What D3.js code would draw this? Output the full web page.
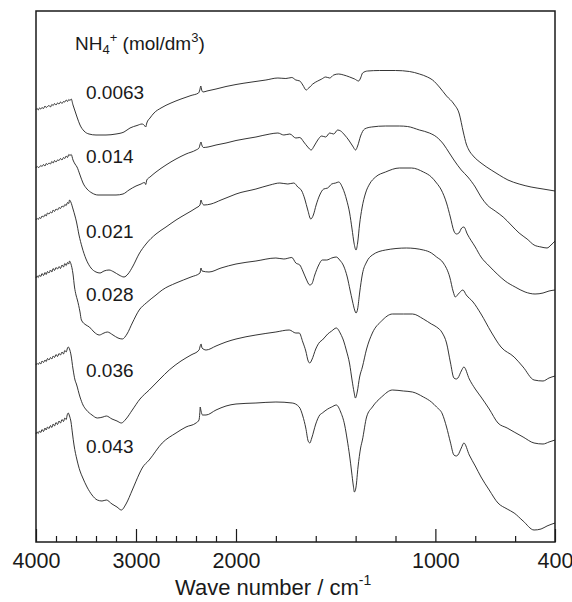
<!DOCTYPE html>
<html>
<head>
<meta charset="utf-8">
<script src="https://cdn.jsdelivr.net/npm/d3@7"></script>
<style>
	body { margin: 0; background: #fff; }
	text { font-family: "Liberation Sans", Arial, sans-serif; fill: #1a1a1a; }
</style>
</head>
<body>
<figure id="irSpectra" style="margin:0"></figure>
<script>

// concentration labels, top trace first
var concLabels = [ "0.0063", "0.014", "0.021", "0.028", "0.036", "0.043" ];

// x axis ticks (wavenumber, cm-1)
var majorTicks = [ 4000, 3000, 2000, 1000, 400 ];
var minorTicks = [ 3800, 3600, 3400, 3200, 2800, 2600, 2400, 2200, 1800, 1600, 1400, 1200, 800, 600 ];

// spectra: [wavenumber, transmittance (arb. units, offset)]
var s0063 = [
	[4000,86.5],[3988,86.7],[3978,86.4],[3965,86.8],[3952,86.6],[3940,86.9],[3925,86.7],[3910,87.2],[3898,86.9],[3885,87.1],
	[3870,87.3],[3855,87.0],[3842,87.5],[3828,87.3],[3815,87.7],[3800,87.4],[3785,87.8],[3770,87.6],[3755,88.0],[3740,87.7],
	[3725,88.1],[3712,88.0],[3698,88.4],[3685,88.1],[3672,88.5],[3660,88.3],[3648,88.6],
	[3630,87.4],[3610,86.2],[3590,85.0],[3560,83.4],[3520,82.2],[3470,81.6],[3400,81.4],[3300,81.4],[3200,81.6],
	[3120,82.0],[3060,82.8],[2990,83.3],[2940,83.6],[2915,83.3],[2903,83.0],[2892,83.8],[2860,84.8],[2820,85.8],[2750,86.8],
	[2650,87.8],[2550,88.6],[2450,89.3],[2375,89.8],[2362,90.4],[2352,91.2],[2343,90.4],[2330,90.0],[2290,90.2],[2200,90.6],
	[2100,91.1],[2000,91.5],[1920,92.0],[1850,92.4],[1790,92.8],[1750,92.7],[1720,92.9],[1700,92.4],[1680,92.2],[1665,91.4],
	[1648,90.4],[1635,90.8],[1615,91.6],[1590,92.2],[1570,92.6],[1550,93.0],[1530,92.8],[1510,93.4],[1485,93.6],[1460,93.4],
	[1430,93.0],[1405,92.6],[1385,92.2],[1375,92.8],[1365,93.8],[1340,94.2],[1280,94.3],[1200,94.3],[1130,94.1],[1080,93.6],
	[1040,93.0],[1014,92.4],[980,91.0],[944,89.2],[907,87.6],[880,85.6],[860,82.0],[845,79.6],[832,78.4],[810,77.2],
	[771,75.8],[720,74.4],[680,73.4],[636,72.4],[580,71.6],[520,71.0],[460,70.6],[430,70.4],[400,70.2]
];

var s014 = [
	[4000,74.8],[3988,75.1],[3978,74.9],[3965,75.0],[3952,75.3],[3940,75.1],[3925,75.5],[3910,75.2],[3898,75.7],[3885,75.5],
	[3870,75.8],[3855,75.6],[3842,76.1],[3828,75.8],[3815,76.3],[3800,76.0],[3785,76.4],[3770,76.3],[3755,76.7],[3740,76.4],
	[3725,76.9],[3712,76.7],[3698,77.2],[3685,76.9],[3672,77.5],[3660,77.3],[3648,77.5],
	[3630,76.4],[3610,75.6],[3590,75.0],[3560,73.4],[3530,71.8],[3490,70.6],[3440,69.8],[3380,69.4],[3300,69.4],
	[3200,69.4],[3130,69.6],[3070,70.4],[3000,71.2],[2950,71.6],[2915,71.9],[2903,71.5],[2892,72.4],[2860,73.0],[2800,74.0],
	[2700,75.4],[2600,76.6],[2500,77.6],[2400,78.4],[2370,78.8],[2358,79.6],[2350,80.0],[2342,79.4],[2325,78.9],[2280,79.0],
	[2200,79.4],[2100,79.8],[2000,80.3],[1900,81.0],[1830,81.6],[1790,81.8],[1760,81.4],[1730,81.6],[1700,80.8],[1680,80.9],
	[1660,80.0],[1640,79.0],[1623,78.4],[1608,79.2],[1590,80.4],[1570,81.2],[1550,81.0],[1530,81.8],[1510,81.6],[1490,82.4],
	[1475,82.2],[1455,81.4],[1435,80.4],[1415,79.2],[1400,78.4],[1390,79.2],[1375,81.2],[1355,82.6],[1320,83.0],[1250,83.2],
	[1180,83.2],[1140,83.1],[1080,82.4],[1030,81.8],[994,81.0],[960,79.6],[930,77.8],[907,76.4],[870,74.4],[837,73.0],
	[800,71.0],[771,69.0],[740,67.4],[700,66.2],[660,65.0],[620,63.4],[580,61.8],[540,60.6],[505,59.4],[470,59.0],
	[440,58.8],[420,59.4],[400,60.2]
];

var s021 = [
	[4000,64.4],[3988,64.7],[3978,64.5],[3965,64.9],[3952,64.7],[3940,65.2],[3925,65.0],[3910,65.5],[3898,65.2],[3885,65.8],
	[3870,65.6],[3855,66.0],[3842,65.8],[3828,66.4],[3815,66.1],[3800,66.6],[3785,66.4],[3770,66.9],[3755,66.7],[3740,67.2],
	[3725,67.0],[3712,67.5],[3698,67.3],[3685,67.9],[3672,67.7],[3665,68.4],[3652,68.0],
	[3630,66.6],[3610,65.2],[3595,64.0],[3570,61.4],[3540,59.0],[3500,56.6],[3450,54.8],[3400,54.0],[3360,53.8],
	[3320,54.2],[3270,54.4],[3220,54.0],[3170,53.4],[3120,53.0],[3080,53.6],[3030,55.2],[2970,57.6],[2900,59.6],[2800,61.6],
	[2700,63.0],[2600,64.4],[2500,65.6],[2400,66.8],[2360,67.4],[2350,68.4],[2340,67.8],[2320,67.4],[2250,67.6],[2150,68.4],
	[2050,69.2],[2000,69.6],[1900,70.6],[1830,71.4],[1780,71.8],[1740,71.6],[1710,71.8],[1690,71.0],[1670,70.2],[1655,68.6],
	[1640,66.4],[1625,64.6],[1612,65.4],[1598,67.4],[1580,69.4],[1560,70.6],[1540,70.8],[1520,71.6],[1500,71.8],[1485,72.0],
	[1465,70.8],[1445,68.4],[1430,65.8],[1418,62.6],[1408,59.8],[1398,58.4],[1390,59.8],[1380,63.6],[1368,66.8],[1350,69.8],
	[1330,71.6],[1300,73.0],[1250,74.0],[1180,74.8],[1120,74.8],[1060,74.0],[1020,73.0],[994,71.8],[970,70.4],[944,67.8],
	[925,65.0],[907,62.2],[895,61.6],[882,61.8],[868,62.8],[857,63.0],[840,61.6],[800,59.0],[771,57.0],[730,55.2],
	[690,53.6],[650,52.2],[600,51.0],[550,50.0],[500,49.6],[460,49.8],[430,50.2],[400,50.4]
];

var s028 = [
	[4000,52.8],[3988,53.2],[3978,52.9],[3965,53.4],[3952,53.1],[3940,53.7],[3925,53.3],[3910,53.9],[3898,53.5],[3885,54.1],
	[3870,53.8],[3855,54.4],[3842,54.0],[3828,54.7],[3815,54.3],[3800,54.9],[3785,54.6],[3770,55.1],[3755,54.7],[3740,55.4],
	[3725,55.0],[3712,55.7],[3698,55.3],[3685,55.9],[3672,55.6],[3665,56.2],[3652,55.7],
	[3630,53.6],[3615,51.0],[3600,49.4],[3586,48.4],[3560,46.0],[3546,44.4],[3500,43.4],[3466,43.0],[3420,42.0],
	[3367,41.4],[3320,41.8],[3287,42.0],[3230,41.4],[3180,40.8],[3137,40.6],[3090,41.6],[3037,43.8],[2968,46.4],[2898,47.8],
	[2800,49.4],[2738,50.4],[2600,51.8],[2450,53.0],[2360,53.8],[2350,54.8],[2340,54.2],[2270,54.0],[2150,54.8],[2000,55.6],
	[1900,56.2],[1800,56.8],[1760,56.6],[1720,56.9],[1700,55.8],[1680,55.4],[1665,54.2],[1648,52.6],[1630,51.4],[1620,51.6],
	[1605,53.4],[1585,55.4],[1567,56.4],[1545,56.4],[1520,56.8],[1497,57.0],[1480,56.4],[1460,55.2],[1442,53.0],[1428,50.4],
	[1416,48.2],[1405,46.4],[1398,45.8],[1390,46.6],[1380,49.8],[1366,53.6],[1345,56.0],[1316,57.4],[1250,58.4],[1145,58.8],
	[1060,58.4],[1020,57.8],[994,57.0],[960,55.8],[928,53.0],[910,50.0],[900,49.0],[885,49.6],[862,50.4],[845,49.4],
	[811,48.0],[771,45.6],[720,42.0],[671,39.0],[605,37.0],[560,35.0],[505,32.4],[460,32.2],[430,32.8],[400,33.2]
];

var s036 = [
	[4000,35.4],[3988,35.7],[3978,35.5],[3965,35.9],[3952,35.6],[3940,36.2],[3925,35.9],[3910,36.4],[3898,36.1],[3885,36.7],
	[3870,36.4],[3855,36.9],[3842,36.6],[3828,37.2],[3815,36.9],[3800,37.5],[3785,37.1],[3770,37.7],[3755,37.4],[3740,38.0],
	[3725,37.6],[3712,38.3],[3698,38.0],[3685,38.8],[3678,39.0],[3665,38.6],
	[3650,37.4],[3630,34.6],[3610,32.4],[3596,31.6],[3560,29.0],[3530,27.4],[3496,26.4],[3440,25.4],[3387,24.8],[3330,25.0],
	[3297,25.2],[3240,24.6],[3190,24.2],[3147,23.8],[3100,24.6],[3037,26.4],[2960,28.6],[2868,30.4],[2760,32.6],[2668,34.4],
	[2550,36.2],[2450,37.4],[2369,38.4],[2358,39.2],[2349,39.6],[2340,38.8],[2299,38.4],[2200,39.2],[2100,40.0],[2000,40.6],
	[1900,41.4],[1800,42.0],[1733,42.4],[1700,41.8],[1683,41.8],[1665,40.0],[1650,38.2],[1638,36.2],[1630,35.8],[1620,36.4],
	[1600,38.6],[1580,40.0],[1567,40.4],[1540,41.6],[1520,42.2],[1497,42.8],[1475,41.6],[1460,40.2],[1447,38.4],[1430,35.6],
	[1418,32.4],[1408,30.0],[1401,28.8],[1392,30.0],[1380,33.0],[1366,35.0],[1345,38.6],[1316,41.8],[1270,44.2],[1215,45.6],
	[1160,45.6],[1115,45.6],[1060,44.6],[1020,43.6],[994,43.0],[965,41.8],[944,39.8],[925,36.0],[907,32.8],[895,32.6],
	[887,32.8],[870,34.2],[857,35.0],[830,32.6],[800,30.6],[771,29.0],[730,26.6],[686,23.8],[640,22.8],[605,22.0],
	[560,21.0],[505,19.8],[460,19.6],[430,20.0],[400,20.4]
];

var s043 = [
	[4000,21.6],[3988,22.0],[3978,21.7],[3965,22.2],[3952,21.9],[3940,22.5],[3925,22.1],[3910,22.8],[3898,22.4],[3885,23.0],
	[3870,22.7],[3855,23.3],[3842,22.9],[3828,23.6],[3815,23.2],[3800,23.9],[3785,23.5],[3770,24.2],[3755,23.8],[3740,24.5],
	[3725,24.1],[3712,24.8],[3698,24.5],[3688,25.4],[3678,25.8],[3665,25.2],
	[3650,24.0],[3636,21.8],[3620,19.4],[3590,16.4],[3560,14.2],[3536,13.0],[3490,11.0],[3440,9.4],[3387,8.4],[3340,8.2],
	[3297,8.4],[3240,7.6],[3190,7.0],[3147,6.4],[3100,7.6],[3037,10.4],[2968,13.6],[2938,14.8],[2868,16.4],[2738,19.8],
	[2600,21.8],[2500,23.0],[2400,23.8],[2370,24.4],[2362,25.8],[2358,27.0],[2350,26.2],[2335,25.4],[2300,25.4],[2200,26.4],
	[2100,27.2],[2000,27.6],[1900,27.8],[1800,28.0],[1718,27.8],[1683,27.0],[1665,25.2],[1650,22.8],[1638,20.2],[1630,19.8],
	[1620,20.8],[1600,23.6],[1580,25.4],[1567,25.8],[1540,26.6],[1520,27.0],[1497,27.4],[1475,26.0],[1455,23.4],[1442,20.4],
	[1430,17.2],[1420,14.0],[1412,11.4],[1406,10.0],[1398,11.0],[1388,15.0],[1375,18.8],[1366,20.4],[1345,25.0],[1316,27.0],
	[1270,29.0],[1215,30.4],[1160,30.2],[1115,30.0],[1060,29.0],[1020,28.0],[994,27.0],[965,25.6],[944,23.0],[925,20.0],
	[907,17.4],[895,17.2],[887,17.4],[870,18.8],[857,19.8],[830,17.4],[800,15.2],[771,13.0],[730,10.4],[686,7.8],
	[640,6.6],[605,5.8],[560,4.2],[505,2.4],[470,2.6],[440,3.2],[400,3.8]
];

var spectra = [ s0063, s014, s021, s028, s036, s043 ];

// chart box
var dimensions = {
	width: 572,
	height: 602,
	margin: { top: 11, right: 17, bottom: 60, left: 36 }
};
dimensions.boundedWidth = dimensions.width - dimensions.margin.left - dimensions.margin.right
dimensions.boundedHeight = dimensions.height - dimensions.margin.top - dimensions.margin.bottom

var svg = d3.select( "figure#irSpectra" )
	.append( "svg" )
	.attr( "width", dimensions.width )
	.attr( "height", dimensions.height );

var g = svg.append( "g" )
	.attr( "transform", `translate(${dimensions.margin.left},${dimensions.margin.top})` );

// wavenumber axis is compressed above 2000 (half scale), polylinear scale
var xScale = d3.scaleLinear()
	.domain( [ 4000, 2000, 400 ] )
	.range( [ 0, 200, dimensions.boundedWidth ] );

var yScale = d3.scaleLinear()
	.domain( [ 0, 106.2 ] )
	.range( [ dimensions.boundedHeight, 0 ] );

// minor ticks, pointing inward
g.append( "g" )
	.attr( "class", "x_minor" )
	.attr( "transform", `translate(0, ${dimensions.boundedHeight})` )
	.call( d3.axisBottom( xScale )
		.tickValues( minorTicks )
		.tickSize( -6 )
		.tickFormat( "" ) )
	.call( g => g.select( ".domain" ).remove() );

// major ticks with labels
var xAxis = g.append( "g" )
	.attr( "class", "x_axis" )
	.attr( "transform", `translate(0, ${dimensions.boundedHeight})` )
	.call( d3.axisBottom( xScale )
		.tickValues( majorTicks )
		.tickSize( -13 )
		.tickPadding( 11 )
		.tickFormat( d3.format( "d" ) ) )
	.call( g => g.select( ".domain" ).remove() );

xAxis.selectAll( "line" ).attr( "stroke", "#1a1a1a" ).attr( "stroke-width", 1.2 );
g.selectAll( ".x_minor line" ).attr( "stroke", "#1a1a1a" ).attr( "stroke-width", 1.2 );
xAxis.selectAll( "text" )
	.style( "font-size", "21.5px" )
	.style( "font-family", "'Liberation Sans', Arial, sans-serif" )
	.style( "fill", "#1a1a1a" );

// the spectra
var line = d3.line()
	.x( d => xScale( d[0] ) )
	.y( d => yScale( d[1] ) )
	.curve( d3.curveMonotoneX );

g.selectAll( "path.spectrum" )
	.data( spectra )
	.enter()
	.append( "path" )
	.attr( "class", "spectrum" )
	.attr( "d", line )
	.attr( "fill", "none" )
	.attr( "stroke", "#1e1e1e" )
	.attr( "stroke-width", 0.9 )
	.attr( "stroke-linejoin", "round" );

// frame
g.append( "rect" )
	.attr( "width", dimensions.boundedWidth )
	.attr( "height", dimensions.boundedHeight )
	.attr( "fill", "none" )
	.attr( "stroke", "#1a1a1a" )
	.attr( "stroke-width", 1.5 );

// header label
var head = svg.append( "text" )
	.attr( "x", 75 )
	.attr( "y", 50 )
	.style( "font-size", "19px" );
head.append( "tspan" ).text( "NH" );
head.append( "tspan" ).attr( "dy", 4 ).style( "font-size", "13px" ).text( "4" );
head.append( "tspan" ).attr( "dy", -12 ).style( "font-size", "13px" ).text( "+" );
head.append( "tspan" ).attr( "dy", 8 ).text( " (mol/dm" );
head.append( "tspan" ).attr( "dy", -8 ).style( "font-size", "13px" ).text( "3" );
head.append( "tspan" ).attr( "dy", 8 ).text( ")" );

// concentration labels next to each trace
var labelY = [ 99, 163, 238, 301, 377, 453 ];
svg.selectAll( "text.conc" )
	.data( concLabels )
	.enter()
	.append( "text" )
	.attr( "class", "conc" )
	.attr( "x", 86 )
	.attr( "y", ( d, i ) => labelY[i] )
	.style( "font-size", "19px" )
	.text( d => d );

// axis title
var title = svg.append( "text" )
	.attr( "x", 175 )
	.attr( "y", 595 )
	.style( "font-size", "22px" );
title.append( "tspan" ).text( "Wave number / cm" );
title.append( "tspan" ).attr( "dy", -10 ).style( "font-size", "14px" ).text( "-1" );

</script>
</body>
</html>
